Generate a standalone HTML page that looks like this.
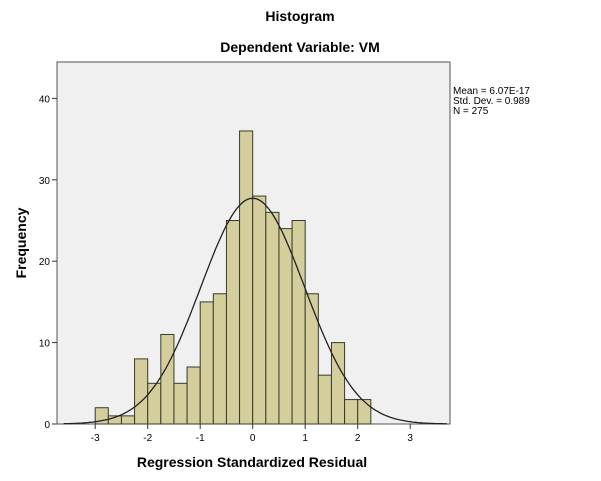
<!DOCTYPE html>
<html><head><meta charset="utf-8"><style>
body{margin:0;background:#fff;}
svg{display:block;font-family:"Liberation Sans",Arial,sans-serif;}
</style></head><body>
<svg id="chart" width="601" height="481" viewBox="0 0 601 481">
<text x="300" y="21" text-anchor="middle" font-size="14" font-weight="bold">Histogram</text>
<text x="300" y="52" text-anchor="middle" font-size="14" font-weight="bold">Dependent Variable: VM</text>
<rect x="57" y="62" width="393" height="362" fill="#f0f0f0" stroke="#555" stroke-width="1"/>
<g id="bars"></g>
<path id="curve" fill="none" stroke="#222" stroke-width="1.3"/>
<g id="axes"></g>
<text x="453" y="94" font-size="10">Mean = 6.07E-17</text>
<text x="453" y="104" font-size="10">Std. Dev. = 0.989</text>
<text x="453" y="114" font-size="10">N = 275</text>
<text x="252" y="467" text-anchor="middle" font-size="14" font-weight="bold">Regression Standardized Residual</text>
<text transform="translate(26,243) rotate(-90)" text-anchor="middle" font-size="14" font-weight="bold">Frequency</text>
</svg>
<script>
const binStart = -3.0;
const binWidth = 0.25;
const counts = [2,1,1,8,5,11,5,7,15,16,25,36,28,26,24,25,16,6,10,3,3];
const xTicks = [-3,-2,-1,0,1,2,3];
const yTicks = [0,10,20,30,40];
const mean = 6.07e-17, sd = 0.989, N = 275;

const NS = "http://www.w3.org/2000/svg";
const X = v => 252.7 + v * 52.5;
const Y = v => 424 - v * 8.14;
const bars = document.getElementById('bars');
counts.forEach((c, i) => {
  const r = document.createElementNS(NS, 'rect');
  const x0 = X(binStart + i * binWidth), x1 = X(binStart + (i + 1) * binWidth);
  r.setAttribute('x', x0); r.setAttribute('y', Y(c));
  r.setAttribute('width', x1 - x0); r.setAttribute('height', Y(0) - Y(c));
  r.setAttribute('fill', '#d3ce9b'); r.setAttribute('stroke', '#3a3a2a'); r.setAttribute('stroke-width', '1');
  
  
  bars.appendChild(r);
});
let d = '';
for (let v = -3.6; v <= 3.7; v += 0.05) {
  const f = N * binWidth / (sd * Math.sqrt(2 * Math.PI)) * Math.exp(-0.5 * ((v - mean) / sd) ** 2);
  d += (d ? 'L' : 'M') + X(v).toFixed(1) + ',' + Y(f).toFixed(1);
}
document.getElementById('curve').setAttribute('d', d);
const axes = document.getElementById('axes');
xTicks.forEach(t => {
  const l = document.createElementNS(NS, 'line');
  l.setAttribute('x1', X(t)); l.setAttribute('x2', X(t)); l.setAttribute('y1', 424); l.setAttribute('y2', 429);
  l.setAttribute('stroke', '#333');
  
  
  axes.appendChild(l);
  const tx = document.createElementNS(NS, 'text');
  tx.setAttribute('x', X(t)); tx.setAttribute('y', 441); tx.setAttribute('text-anchor', 'middle'); tx.setAttribute('font-size', '10');
  tx.textContent = t;
  
  
  axes.appendChild(tx);
});
yTicks.forEach(t => {
  const l = document.createElementNS(NS, 'line');
  l.setAttribute('x1', 52); l.setAttribute('x2', 57); l.setAttribute('y1', Y(t)); l.setAttribute('y2', Y(t));
  l.setAttribute('stroke', '#333');
  
  
  axes.appendChild(l);
  const tx = document.createElementNS(NS, 'text');
  tx.setAttribute('x', 50); tx.setAttribute('y', Y(t) + 4); tx.setAttribute('text-anchor', 'end'); tx.setAttribute('font-size', '10');
  tx.textContent = t;
  
  
  axes.appendChild(tx);
});
</script>
</body></html>
